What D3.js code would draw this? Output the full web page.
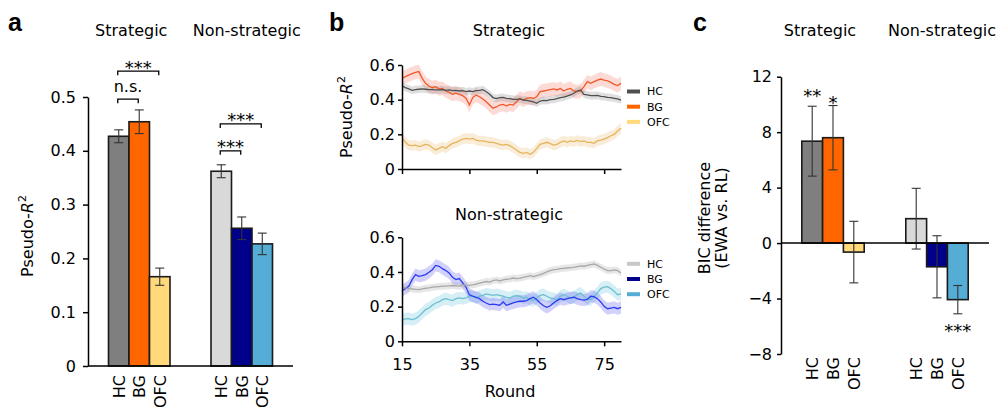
<!DOCTYPE html>
<html><head><meta charset="utf-8">
<script src="https://cdn.jsdelivr.net/npm/d3@7"></script>
<style>
html,body{margin:0;padding:0;background:#fff;}
svg{display:block;font-family:"DejaVu Sans",sans-serif;}
</style></head><body>
<svg id="chart" width="997" height="409"></svg>
<script>
// ---------- data ----------
const groups = ["Strategic", "Non-strategic"];
const regions = ["HC", "BG", "OFC"];

// panel a: pseudo-R2
const r2Strategic = [0.427, 0.454, 0.166];
const r2StrategicErr = [0.012, 0.022, 0.016];
const r2NonStrategic = [0.362, 0.256, 0.227];
const r2NonStrategicErr = [0.012, 0.021, 0.020];
const r2Ticks = [0, 0.1, 0.2, 0.3, 0.4, 0.5];

// panel c: BIC difference
const bicStrategic = [7.35, 7.60, -0.65];
const bicStrategicErr = [2.52, 2.32, 2.22];
const bicNonStrategic = [1.76, -1.71, -4.08];
const bicNonStrategicErr = [2.19, 2.24, 1.02];
const bicTicks = [-8, -4, 0, 4, 8, 12];

// panel b: time courses, rounds 15..80
const rounds = d3.range(15, 81);
const roundTicks = [15, 35, 55, 75];
const timeTicks = [0, 0.2, 0.4, 0.6];
const stratHC = [
  .481,.469,.462,.454,.458,.460,.462,.460,.458,.458,
  .456,.456,.458,.454,.456,.452,.454,.450,.452,.446,
  .450,.446,.452,.454,.458,.446,.431,.412,.406,.412,
  .413,.408,.406,.402,.402,.404,.398,.396,.392,.388,
  .379,.392,.396,.394,.400,.402,.406,.412,.415,.421,
  .427,.437,.450,.456,.431,.427,.423,.423,.425,.419,
  .417,.413,.412,.408,.404,.398];
const stratBG = [
  .523,.533,.542,.550,.558,.562,.523,.494,.479,.469,
  .475,.462,.465,.450,.442,.431,.437,.431,.423,.408,
  .369,.412,.427,.417,.404,.388,.369,.350,.358,.369,
  .373,.365,.373,.369,.388,.408,.398,.408,.412,.408,
  .417,.446,.450,.454,.458,.462,.456,.465,.450,.460,
  .465,.450,.446,.450,.475,.504,.494,.504,.513,.519,
  .513,.508,.500,.488,.481,.494];
const stratOFC = [
  .181,.154,.138,.135,.138,.129,.135,.142,.138,.123,
  .110,.119,.129,.119,.135,.148,.154,.162,.173,.177,
  .173,.177,.167,.162,.162,.158,.154,.154,.148,.142,
  .138,.142,.135,.123,.110,.096,.090,.096,.085,.096,
  .119,.142,.148,.154,.146,.138,.142,.154,.162,.154,
  .162,.158,.165,.158,.162,.154,.154,.148,.162,.167,
  .173,.181,.192,.200,.219,.235];
const nonHC = [
  .312,.308,.304,.302,.300,.298,.302,.306,.308,.312,
  .314,.316,.318,.318,.320,.322,.320,.318,.325,.324,
  .323,.325,.330,.335,.340,.345,.342,.350,.354,.348,
  .354,.358,.360,.365,.362,.365,.369,.373,.379,.373,
  .379,.385,.392,.400,.408,.413,.415,.419,.421,.423,
  .425,.427,.431,.435,.433,.438,.442,.446,.438,.427,
  .417,.408,.408,.412,.408,.394];
const nonBG = [
  .292,.304,.317,.356,.385,.375,.379,.385,.398,.413,
  .438,.433,.419,.408,.394,.369,.356,.362,.337,.312,
  .269,.260,.254,.246,.231,.221,.212,.215,.212,.208,
  .227,.208,.215,.221,.227,.231,.231,.235,.246,.254,
  .240,.221,.205,.196,.205,.221,.235,.246,.240,.246,
  .250,.254,.246,.240,.238,.242,.260,.258,.246,.227,
  .202,.188,.192,.196,.188,.196];
const nonOFC = [
  .123,.129,.131,.125,.131,.144,.163,.183,.192,.208,
  .221,.227,.240,.246,.240,.235,.246,.250,.246,.250,
  .260,.260,.250,.260,.265,.273,.269,.265,.269,.265,
  .260,.254,.250,.260,.263,.260,.250,.254,.240,.235,
  .250,.265,.269,.260,.250,.246,.240,.260,.269,.260,
  .250,.254,.269,.279,.260,.246,.240,.260,.279,.304,
  .312,.315,.304,.288,.269,.273];
const stratBand = [0.022, 0.040, 0.030];
const nonBand = [0.020, 0.035, 0.035];

// ---------- styles ----------
const barColors = [["#7f7f7f", "#ff6600", "#ffd97a"], ["#d9d9d9", "#00008b", "#55acd4"]];
const lineColorsStrat = ["#505050", "#f05a28", "#e6b45a"];
const bandColorsStrat = ["rgba(110,110,110,0.22)", "rgba(245,110,95,0.25)", "rgba(232,190,120,0.28)"];
const legendColorsStrat = ["#505050", "#ff6600", "#ffd97a"];
const lineColorsNon = ["#a8a8a8", "#2b3bf0", "#6bbfcf"];
const bandColorsNon = ["rgba(170,170,170,0.28)", "rgba(90,90,240,0.28)", "rgba(120,200,225,0.30)"];
const legendColorsNon = ["#c8c8c8", "#00008b", "#55acd4"];
const FONT = "DejaVu Sans, sans-serif";
const FS = 16;

const svg = d3.select("#chart");

function styleAxis(ax) {
  ax.selectAll("path,line").attr("stroke", "#000").attr("stroke-width", 1.5);
  ax.selectAll("text").attr("font-family", FONT).attr("font-size", FS).attr("fill", "#000");
}

function panelLetter(x, y, t) {
  svg.append("text").attr("x", x).attr("y", y).text(t)
    .attr("font-family", "Liberation Sans, Arial, sans-serif").attr("font-weight", "bold").attr("font-size", 25);
}

function pseudoLabel(g, x, y) {
  const t = g.append("text").attr("transform", `translate(${x},${y}) rotate(-90)`)
    .attr("text-anchor", "middle").attr("font-family", FONT).attr("font-size", FS);
  t.append("tspan").text("Pseudo-");
  t.append("tspan").attr("font-style", "italic").text("R");
  t.append("tspan").attr("font-size", 11).attr("dy", -7).text("2");
}

function barPanel(opts) {
  const g = svg.append("g");
  const xG = d3.scaleBand().domain(groups).range(opts.xRange).paddingInner(0.4).paddingOuter(0.2);
  const xR = d3.scaleBand().domain(regions).range([0, xG.bandwidth()]);
  const y = d3.scaleLinear().domain(opts.yDomain).range(opts.yRange);
  // y axis
  const ax = g.append("g").attr("transform", `translate(${opts.xRange[0]},0)`)
    .call(d3.axisLeft(y).tickValues(opts.ticks).tickFormat(opts.fmt)
      .tickSize(opts.tickSize).tickPadding(opts.tickPad).tickSizeOuter(0));
  styleAxis(ax);
  // bars
  groups.forEach((grp, gi) => {
    regions.forEach((reg, ri) => {
      const v = opts.values[gi][ri], e = opts.errs[gi][ri];
      const x0 = xG(grp) + xR(reg), w = xR.bandwidth(), cx = x0 + w / 2;
      g.append("rect").attr("x", x0).attr("width", w)
        .attr("y", y(Math.max(0, v))).attr("height", Math.abs(y(v) - y(0)))
        .attr("fill", barColors[gi][ri]).attr("stroke", "#1a1a1a").attr("stroke-width", 1.6);
      const eg = g.append("g").attr("stroke", "#333").attr("stroke-width", 1.1);
      eg.append("line").attr("x1", cx).attr("x2", cx).attr("y1", y(v - e)).attr("y2", y(v + e));
      [v - e, v + e].forEach(yy => eg.append("line").attr("x1", cx - 4.5).attr("x2", cx + 4.5)
        .attr("y1", y(yy)).attr("y2", y(yy)));
      g.append("text").attr("transform", `translate(${cx + 6},${opts.labelTop}) rotate(-90)`)
        .attr("text-anchor", "end").attr("font-family", FONT).attr("font-size", FS).text(reg);
    });
    g.append("text").attr("x", xG(grp) + xG.bandwidth() / 2 + opts.titleShift[gi]).attr("y", 36)
      .attr("text-anchor", "middle").attr("font-family", FONT).attr("font-size", FS).text(grp);
  });
  // x baseline
  g.append("line").attr("x1", opts.xRange[0]).attr("x2", opts.xRange[1])
    .attr("y1", y(0)).attr("y2", y(0)).attr("stroke", "#000").attr("stroke-width", 1.5);
  const center = (grp, reg) => xG(grp) + xR(reg) + xR.bandwidth() / 2;
  return { g, y, center };
}

// ---------- panel a ----------
panelLetter(8, 31, "a");
const A = barPanel({
  xRange: [88, 293], yDomain: [0, 0.5], yRange: [366, 97],
  ticks: r2Ticks, fmt: d => d === 0 ? "0" : d3.format(".1f")(d),
  tickSize: 5, tickPad: 7,
  values: [r2Strategic, r2NonStrategic], errs: [r2StrategicErr, r2NonStrategicErr],
  labelTop: 375, titleShift: [-8, 5]
});
pseudoLabel(A.g, 33, 236);

function bracket(P, grp, r1, r2, val, label) {
  const x1 = P.center(grp, r1) - 1, x2 = P.center(grp, r2) - 1, yy = P.y(val);
  P.g.append("path").attr("d", `M${x1},${yy + 4}V${yy}H${x2}V${yy + 4}`)
    .attr("fill", "none").attr("stroke", "#000").attr("stroke-width", 1.3);
  const isStar = label.startsWith("*");
  P.g.append("text").attr("x", (x1 + x2) / 2).attr("y", isStar ? yy + 2.5 : yy - 7)
    .attr("text-anchor", "middle").attr("font-family", FONT)
    .attr("font-size", isStar ? 18 : FS).text(label);
}
bracket(A, "Strategic", "HC", "OFC", 0.548, "***");
bracket(A, "Strategic", "HC", "BG", 0.496, "n.s.");
bracket(A, "Non-strategic", "HC", "OFC", 0.450, "***");
bracket(A, "Non-strategic", "HC", "BG", 0.400, "***");

// ---------- panel c ----------
panelLetter(693, 31, "c");
const C = barPanel({
  xRange: [781, 989], yDomain: [-8, 12], yRange: [354, 76.7],
  ticks: bicTicks, fmt: d3.format("d"),
  tickSize: 4, tickPad: 5,
  values: [bicStrategic, bicNonStrategic], errs: [bicStrategicErr, bicNonStrategicErr],
  labelTop: 357, titleShift: [-13, 5]
});
const cl = C.g.append("text").attr("transform", "translate(710,218) rotate(-90)")
  .attr("text-anchor", "middle").attr("font-family", FONT).attr("font-size", FS);
cl.append("tspan").attr("x", 0).attr("dy", 0).text("BIC difference");
C.g.append("text").attr("transform", "translate(727,218) rotate(-90)")
  .attr("text-anchor", "middle").attr("font-family", FONT).attr("font-size", FS).text("(EWA vs. RL)");
[["Strategic", "HC", "**", 10.9], ["Strategic", "BG", "*", 10.38], ["Non-strategic", "OFC", "***", -6.03]]
  .forEach(([grp, reg, lab, at]) => {
    C.g.append("text").attr("x", C.center(grp, reg)).attr("y", C.y(at) + 10)
      .attr("text-anchor", "middle").attr("font-family", FONT).attr("font-size", 18).text(lab);
  });

// ---------- panel b ----------
panelLetter(329, 31, "b");
const xB = d3.scaleLinear().domain([15, 80]).range([402, 621]);

function timePanel(yRange, series, bands, lineColors, bandColors, legendColors, showX, title, titleY) {
  const g = svg.append("g");
  const y = d3.scaleLinear().domain([0, 0.6]).range(yRange);
  const order = [2, 1, 0];
  order.forEach(i => {
    const rows = rounds.map((r, k) => ({ r, v: series[i][k] }));
    g.append("path").datum(rows).attr("fill", bandColors[i])
      .attr("d", d3.area().x(d => xB(d.r)).y0(d => y(d.v - bands[i])).y1(d => y(d.v + bands[i])));
  });
  order.forEach(i => {
    const rows = rounds.map((r, k) => ({ r, v: series[i][k] }));
    g.append("path").datum(rows).attr("fill", "none").attr("stroke", lineColors[i]).attr("stroke-width", 1.3)
      .attr("d", d3.line().x(d => xB(d.r)).y(d => y(d.v)));
  });
  const ay = g.append("g").attr("transform", `translate(${xB(15)},0)`)
    .call(d3.axisLeft(y).tickValues(timeTicks).tickFormat(d => d === 0 ? "0" : d3.format(".1f")(d))
      .tickSize(4).tickPadding(3).tickSizeOuter(0));
  styleAxis(ay);
  const axx = g.append("g").attr("transform", `translate(0,${y(0)})`)
    .call(d3.axisBottom(xB).tickValues(roundTicks).tickFormat(showX ? d3.format("d") : () => "")
      .tickSize(5).tickPadding(12).tickSizeOuter(0));
  styleAxis(axx);
  // legend
  regions.forEach((reg, i) => {
    const ly = y(0.6) + 26.5 + i * 15.2;
    g.append("rect").attr("x", 627).attr("y", ly - 2).attr("width", 13).attr("height", 4).attr("fill", legendColors[i]);
    g.append("text").attr("x", 647).attr("y", ly).attr("dy", "0.36em").attr("font-family", FONT)
      .attr("font-size", 11).text(reg);
  });
  g.append("text").attr("x", 509).attr("y", titleY).attr("text-anchor", "middle")
    .attr("font-family", FONT).attr("font-size", FS).text(title);
  return { g, y };
}
const T = timePanel([169, 65], [stratHC, stratBG, stratOFC], stratBand,
  lineColorsStrat, bandColorsStrat, legendColorsStrat, false, "Strategic", 36);
pseudoLabel(T.g, 352, 117);
timePanel([341.3, 237.3], [nonHC, nonBG, nonOFC], nonBand,
  lineColorsNon, bandColorsNon, legendColorsNon, true, "Non-strategic", 220);
svg.append("text").attr("x", 510).attr("y", 397).attr("text-anchor", "middle")
  .attr("font-family", FONT).attr("font-size", FS).text("Round");
</script></body></html>
